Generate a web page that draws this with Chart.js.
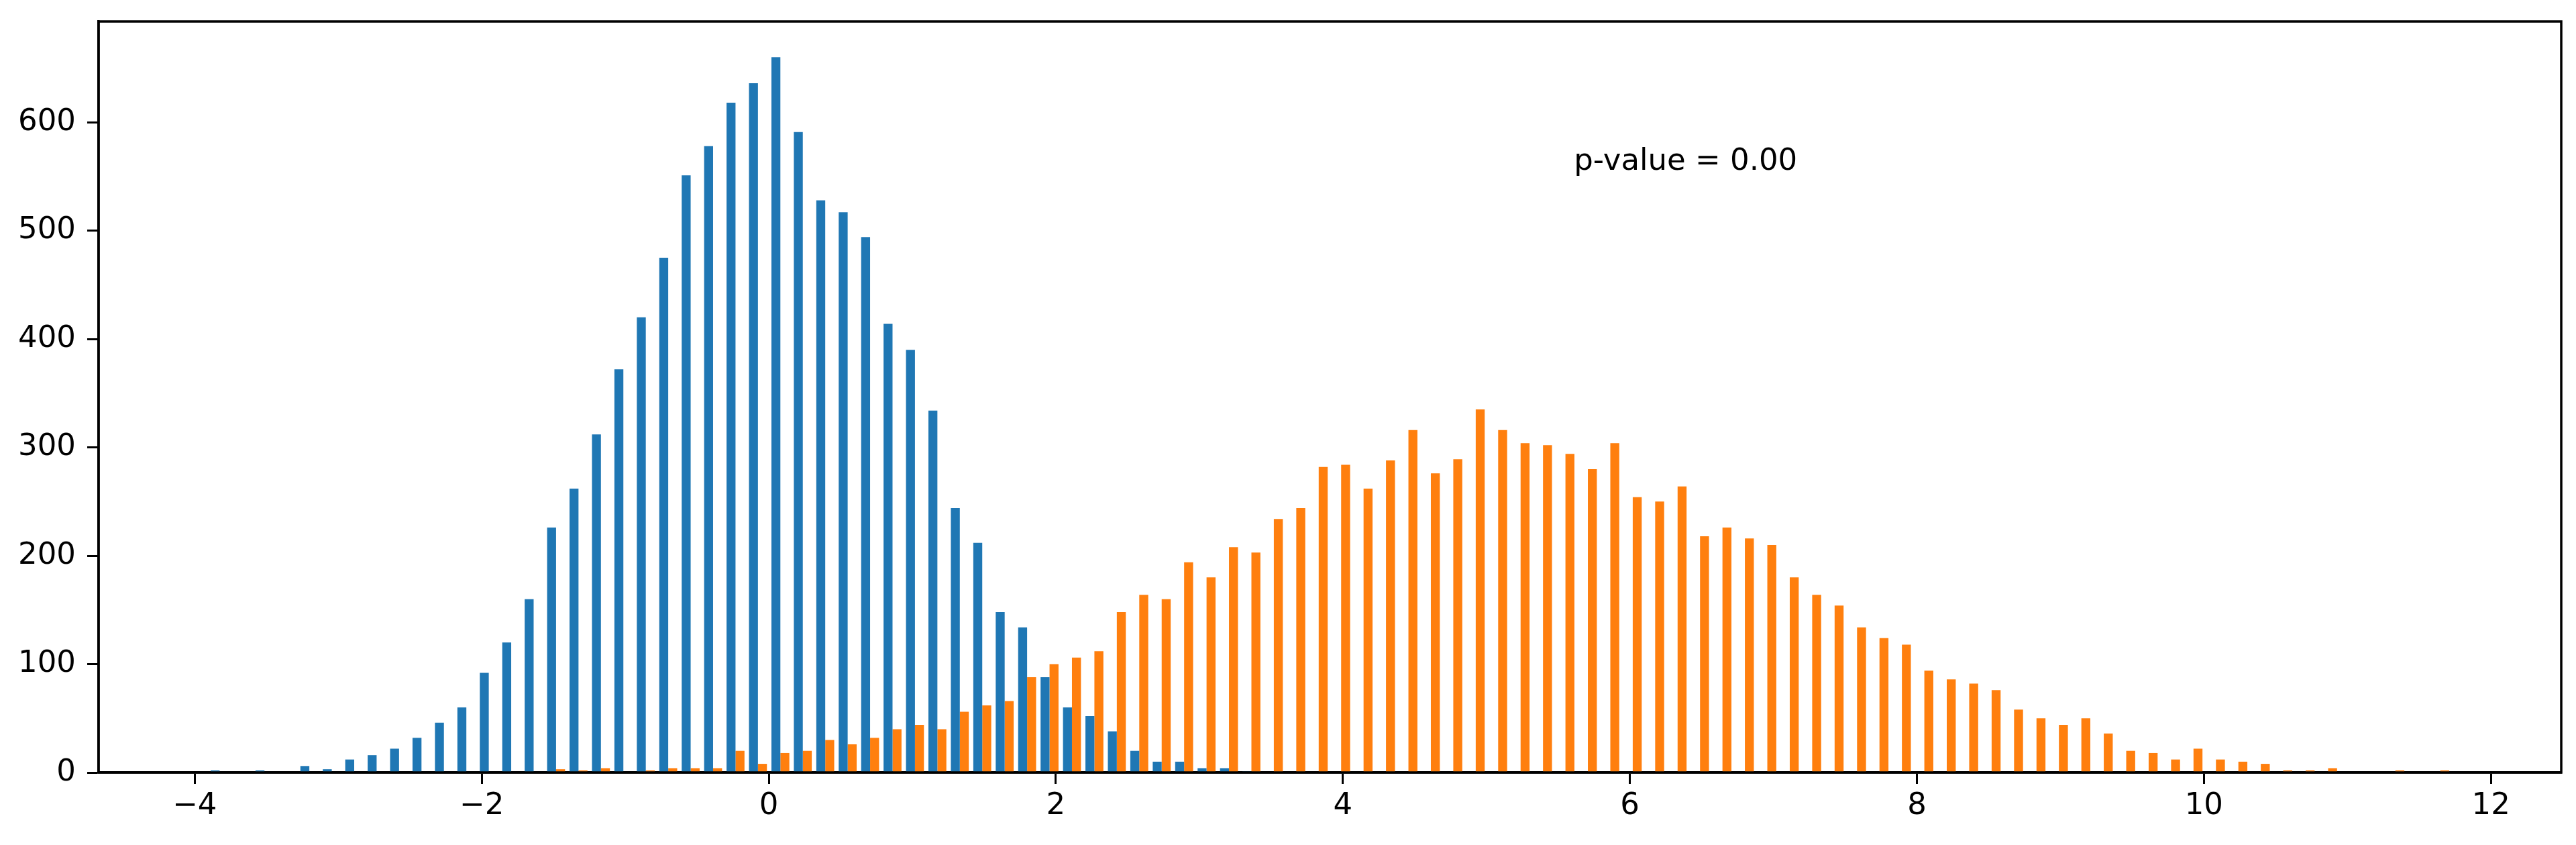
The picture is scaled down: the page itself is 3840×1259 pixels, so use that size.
<!DOCTYPE html>
<html>
<head>
<meta charset="utf-8">
<script src="https://cdn.jsdelivr.net/npm/chart.js@4.4.1/dist/chart.umd.min.js"></script>
<style>
  html, body { margin: 0; padding: 0; background: #ffffff; }
  canvas { display: block; }
</style>
</head>
<body>
<canvas id="myChart" width="3840" height="1259"></canvas>
<script>
// histogram bins (100 equal bins over the combined data range)
const binLow = -3.905;
const binHigh = 11.725;
const binCount = 100;

// counts, one per bin
const countsA = [
    2, 0, 2, 0, 6, 3, 12, 16, 22, 32,
    46, 60, 92, 120, 160, 226, 262, 312, 372, 420,
    475, 551, 578, 618, 636, 660, 591, 528, 517, 494,
    414, 390, 334, 244, 212, 148, 134, 88, 60, 52,
    38, 20, 10, 10, 4, 4, 1, 0, 0, 0,
    0, 0, 0, 0, 0, 0, 0, 0, 0, 0,
    0, 0, 0, 0, 0, 0, 0, 0, 0, 0,
    0, 0, 0, 0, 0, 0, 0, 0, 0, 0,
    0, 0, 0, 0, 0, 0, 0, 0, 0, 0,
    0, 0, 0, 0, 0, 0, 0, 0, 0, 0,
];
const countsB = [
    0, 0, 0, 0, 0, 0, 0, 0, 0, 0,
    0, 0, 0, 0, 0, 3, 2, 4, 0, 2,
    4, 4, 4, 20, 8, 18, 20, 30, 26, 32,
    40, 44, 40, 56, 62, 66, 88, 100, 106, 112,
    148, 164, 160, 194, 180, 208, 203, 234, 244, 282,
    284, 262, 288, 316, 276, 289, 335, 316, 304, 302,
    294, 280, 304, 254, 250, 264, 218, 226, 216, 210,
    180, 164, 154, 134, 124, 118, 94, 86, 82, 76,
    58, 50, 44, 50, 36, 20, 18, 12, 22, 12,
    10, 8, 2, 2, 4, 0, 0, 2, 0, 2,
];

const xTicks = [-4, -2, 0, 2, 4, 6, 8, 10, 12];
const yTicks = [0, 100, 200, 300, 400, 500, 600];
const pValueLabel = 'p-value = 0.00';
const pValuePos = { x: 5.61, y: 556 };

const binWidth = (binHigh - binLow) / binCount;
const binCenters = countsA.map((_, i) => binLow + (i + 0.5) * binWidth);

const FONT = { family: 'DejaVu Sans', size: 45 };
const BLACK = '#000000';

// matplotlib-ish frame + text annotation
const framePlugin = {
    id: 'frame',
    afterDraw(chart) {
        const { ctx, chartArea: a, scales } = chart;
        ctx.save();
        ctx.strokeStyle = BLACK;
        ctx.lineWidth = 3.5;
        ctx.strokeRect(a.left, a.top, a.right - a.left, a.bottom - a.top);

        ctx.fillStyle = BLACK;
        ctx.font = `${FONT.size}px ${FONT.family}`;
        ctx.textAlign = 'left';
        ctx.textBaseline = 'alphabetic';
        ctx.fillText(pValueLabel,
            scales.x.getPixelForValue(pValuePos.x),
            scales.y.getPixelForValue(pValuePos.y));
        ctx.restore();
    },
};

const ctx = document.getElementById('myChart').getContext('2d');

const myChart = new Chart(ctx, {
    type: 'bar',
    data: {
        datasets: [
            {
                data: binCenters.map((x, i) => ({ x: x, y: countsA[i] })),
                backgroundColor: '#1f77b4',
                borderWidth: 0,
            },
            {
                data: binCenters.map((x, i) => ({ x: x, y: countsB[i] })),
                backgroundColor: '#ff7f0e',
                borderWidth: 0,
            },
        ],
    },
    options: {
        responsive: false,
        devicePixelRatio: 1,
        animation: false,
        categoryPercentage: 0.8,
        barPercentage: 1.0,
        layout: { padding: { left: 0, right: 22, top: 32, bottom: 0 } },
        plugins: {
            legend: { display: false },
            tooltip: { enabled: false },
        },
        scales: {
            x: {
                type: 'linear',
                offset: false,
                min: -4.67,
                max: 12.49,
                afterBuildTicks: (s) => { s.ticks = xTicks.map(v => ({ value: v })); },
                afterFit: (s) => {
                    s.height = 108;
                    s.paddingLeft = 0;
                    s.paddingRight = 0;
                },
                grid: {
                    offset: false,
                    drawOnChartArea: false,
                    drawTicks: true,
                    tickLength: 17,
                    tickWidth: 3,
                    tickColor: BLACK,
                },
                border: { display: true, color: BLACK, width: 3.5 },
                ticks: {
                    color: BLACK,
                    font: FONT,
                    padding: 6,
                    maxRotation: 0,
                    callback: (v) => (v < 0 ? '\u2212' + Math.abs(v) : String(v)),
                },
            },
            y: {
                min: 0,
                max: 693,
                afterBuildTicks: (s) => { s.ticks = yTicks.map(v => ({ value: v })); },
                afterFit: (s) => {
                    s.width = 147;
                    s.paddingTop = 0;
                    s.paddingBottom = 0;
                },
                grid: {
                    drawOnChartArea: false,
                    drawTicks: true,
                    tickLength: 17,
                    tickWidth: 3,
                    tickColor: BLACK,
                },
                border: { display: true, color: BLACK, width: 3.5 },
                ticks: {
                    color: BLACK,
                    font: FONT,
                    padding: 17,
                },
            },
        },
    },
    plugins: [framePlugin],
});
</script>
</body>
</html>
